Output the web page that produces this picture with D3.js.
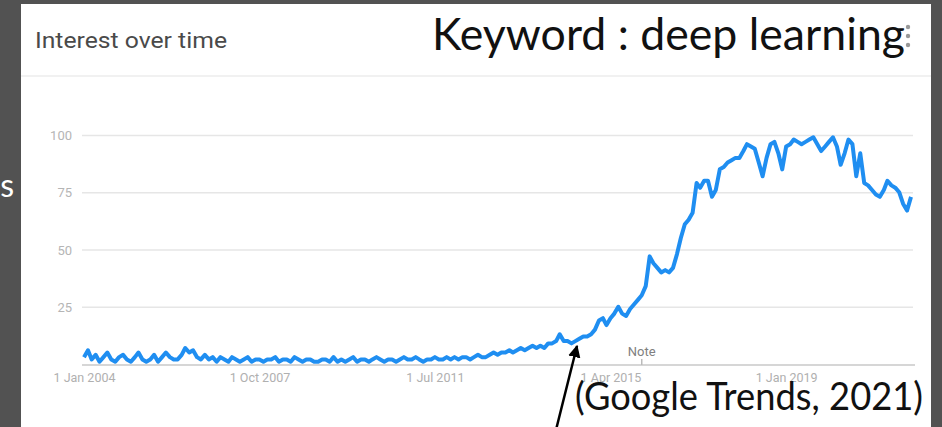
<!DOCTYPE html>
<html>
<head>
<meta charset="utf-8">
<script src="https://cdn.jsdelivr.net/npm/d3@7"></script>
<style>
  html, body { margin: 0; padding: 0; background: #525252; }
  svg { display: block; }
</style>
</head>
<body>
<div id="chart"></div>
<script>
// monthly interest values, Jan 2004 .. Sep 2021
const startMonth = "2004-01-01";
const values = [
  3, 6, 2, 4, 1, 3, 5, 2, 1, 3, 4, 2,        // 2004
  1, 3, 5, 2, 1, 2, 4, 1, 3, 5, 3, 2,        // 2005
  2, 4, 7, 5, 6, 3, 2, 4, 2, 3, 1, 3,        // 2006
  2, 1, 3, 2, 1, 2, 3, 1, 2, 2, 1, 2,        // 2007
  2, 3, 1, 2, 2, 1, 3, 2, 1, 2, 2, 1,        // 2008
  1, 2, 2, 1, 3, 1, 2, 1, 2, 3, 1, 2,        // 2009
  2, 1, 2, 3, 2, 1, 2, 2, 1, 2, 3, 2,        // 2010
  2, 3, 2, 1, 2, 2, 3, 2, 2, 3, 2, 3,        // 2011
  2, 3, 3, 2, 3, 4, 3, 3, 4, 5, 4, 5,        // 2012
  5, 6, 5, 6, 7, 6, 7, 8, 7, 8, 7, 9,        // 2013
  9, 10, 13, 10, 10, 9, 10, 11, 12, 12, 13, 15, // 2014
  19, 20, 17, 20, 22, 25, 22, 21, 24, 26, 28, 30, // 2015
  34, 47, 44, 42, 40, 41, 40, 42, 48, 55, 61, 63, // 2016
  66, 79, 77, 80, 80, 73, 76, 85, 86, 88, 89, 90, // 2017
  90, 93, 96, 95, 94, 88, 82, 90, 96, 97, 92, 85, // 2018
  95, 96, 98, 97, 96, 97, 98, 99, 96, 93, 95, 97, // 2019
  99, 95, 87, 92, 98, 96, 82, 92, 79, 78, 76, 74, // 2020
  73, 76, 80, 78, 77, 75, 70, 67, 73             // 2021
];
const yTicks = [25, 50, 75, 100];
const xTickDates = ["2004-01-01", "2007-10-01", "2011-07-01", "2015-04-01", "2019-01-01"];
const xTickLabels = ["1 Jan 2004", "1 Oct 2007", "1 Jul 2011", "1 Apr 2015", "1 Jan 2019"];
const noteDate = "2015-12-01";

const width = 942;
const height = 427;

const parse = d3.utcParse("%Y-%m-%d");
const start = parse(startMonth);
const data = values.map((v, i) => ({ date: d3.utcMonth.offset(start, i), value: v }));

const svg = d3.select("#chart")
  .append("svg")
  .attr("width", width)
  .attr("height", height);

// slide background + white panel
svg.append("rect").attr("width", width).attr("height", height).attr("fill", "#525252");
svg.append("rect")
  .attr("x", 21).attr("y", 4)
  .attr("width", 910).attr("height", height)
  .attr("fill", "#ffffff");

// cut-off slide text on the left
svg.append("text")
  .attr("x", 14).attr("y", 197)
  .attr("text-anchor", "end")
  .attr("font-family", "Lato, sans-serif")
  .attr("font-size", 32)
  .attr("fill", "#ffffff")
  .text("s");

// card header
svg.append("text")
  .attr("x", 35).attr("y", 48)
  .attr("font-family", "Roboto, sans-serif")
  .attr("font-size", 22)
  .attr("fill", "#4a4a4a")
  .attr("textLength", 192)
  .attr("lengthAdjust", "spacingAndGlyphs")
  .text("Interest over time");

svg.append("line")
  .attr("x1", 21).attr("x2", 931)
  .attr("y1", 76).attr("y2", 76)
  .attr("stroke", "#ececec")
  .attr("stroke-width", 1.5);

// menu dots
svg.selectAll(".dot")
  .data([27, 36, 45])
  .enter()
  .append("circle")
  .attr("cx", 908)
  .attr("cy", (d) => d)
  .attr("r", 2.2)
  .attr("fill", "#999");

// scales
const x = d3.scaleUtc()
  .domain([start, data[data.length - 1].date])
  .range([84, 911]);

const y = d3.scaleLinear()
  .domain([0, 100])
  .range([364, 135]);

// gridlines
const grid = svg.append("g")
  .attr("transform", "translate(82,0)")
  .call(d3.axisLeft(y).tickValues(yTicks).tickSize(-831).tickFormat(""));
grid.select(".domain").remove();
grid.selectAll("line").attr("stroke", "#e6e6e6").attr("stroke-width", 1.5);

// y tick labels
svg.selectAll(".ylab")
  .data(yTicks)
  .enter()
  .append("text")
  .attr("x", 72)
  .attr("y", (d) => y(d) + 5)
  .attr("text-anchor", "end")
  .attr("font-family", "Roboto, sans-serif")
  .attr("font-size", 13)
  .attr("fill", "#b5b5b5")
  .text((d) => d);

// x axis
const xAxis = svg.append("g")
  .attr("transform", "translate(0,365)")
  .call(d3.axisBottom(x)
    .tickValues(xTickDates.map(parse))
    .tickSize(0)
    .tickPadding(8)
    .tickFormat((d, i) => xTickLabels[i]));
xAxis.select(".domain")
  .attr("d", "M82,0H915")
  .attr("stroke", "#c8c8c8")
  .attr("stroke-width", 1.5);
xAxis.selectAll("text")
  .attr("font-family", "Roboto, sans-serif")
  .attr("font-size", 12.5)
  .attr("fill", "#b0b0b0");

// note marker
const noteX = x(parse(noteDate));
svg.append("line")
  .attr("x1", noteX).attr("x2", noteX)
  .attr("y1", 359).attr("y2", 365)
  .attr("stroke", "#bbb")
  .attr("stroke-width", 1.5);
svg.append("text")
  .attr("x", noteX).attr("y", 356)
  .attr("text-anchor", "middle")
  .attr("font-family", "Roboto, sans-serif")
  .attr("font-size", 13)
  .attr("fill", "#808080")
  .text("Note");

// the trend line
const line = d3.line()
  .x((d) => x(d.date))
  .y((d) => y(d.value));

svg.append("path")
  .datum(data)
  .attr("fill", "none")
  .attr("stroke", "#1f8ef1")
  .attr("stroke-width", 4)
  .attr("stroke-linejoin", "round")
  .attr("d", line);

// slide annotations
svg.append("text")
  .attr("x", 432).attr("y", 50)
  .attr("font-family", "Lato, sans-serif")
  .attr("font-size", 44)
  .attr("fill", "#111")
  .attr("textLength", 473)
  .attr("lengthAdjust", "spacingAndGlyphs")
  .text("Keyword : deep learning");

svg.append("text")
  .attr("x", 575).attr("y", 410)
  .attr("font-family", "Lato, sans-serif")
  .attr("font-size", 38)
  .attr("fill", "#111")
  .attr("textLength", 348)
  .attr("lengthAdjust", "spacingAndGlyphs")
  .text("(Google Trends, 2021)");

// arrow
svg.append("defs").append("marker")
  .attr("id", "head")
  .attr("viewBox", "0 0 10 10")
  .attr("refX", 9).attr("refY", 5)
  .attr("markerWidth", 5).attr("markerHeight", 5)
  .attr("orient", "auto")
  .append("path")
  .attr("d", "M0,0L10,5L0,10Z")
  .attr("fill", "#000");

svg.append("line")
  .attr("x1", 556).attr("y1", 430)
  .attr("x2", 577).attr("y2", 346)
  .attr("stroke", "#000")
  .attr("stroke-width", 2.5)
  .attr("marker-end", "url(#head)");
</script>
</body>
</html>
